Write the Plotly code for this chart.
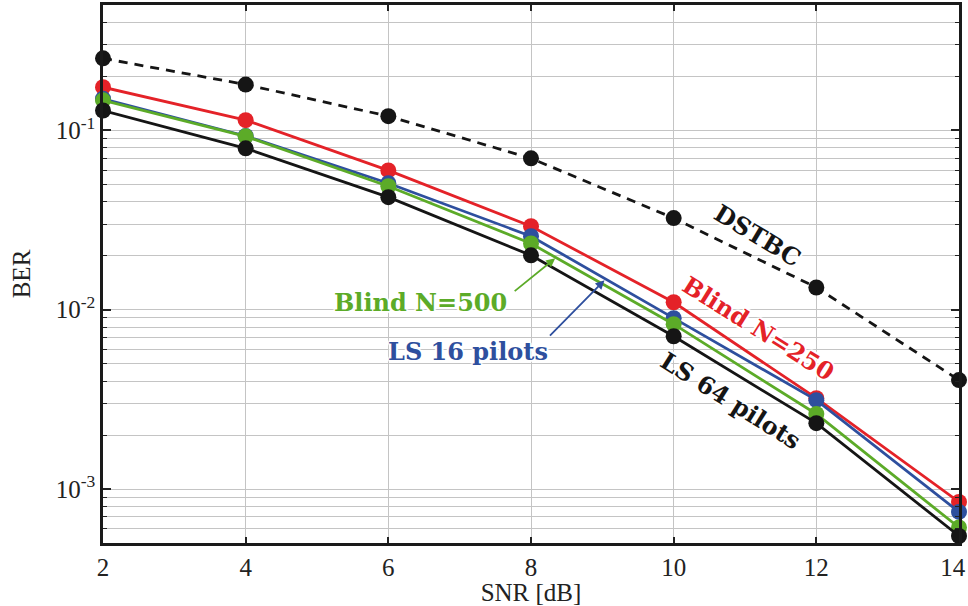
import plotly.graph_objects as go
import numpy as np

snr = [2, 4, 6, 8, 10, 12, 14]
snr_labels = ["2", "4", "6", "8", "10", "12", "14\u00a0\u00a0"]
ber_dstbc = [0.252, 0.180, 0.120, 0.0698, 0.0324, 0.0133, 0.00405]
ber_blind250 = [0.174, 0.114, 0.0598, 0.0292, 0.0110, 0.00321, 0.000847]
ber_ls16 = [0.150, 0.093, 0.0507, 0.0257, 0.00897, 0.00313, 0.000745]
ber_blind500 = [0.147, 0.0926, 0.0488, 0.0234, 0.00830, 0.00262, 0.000610]
ber_ls64 = [0.129, 0.0794, 0.0424, 0.0201, 0.00711, 0.00233, 0.000547]

C_RED = "#e42228"
C_BLUE = "#2e4f9e"
C_GREEN = "#5cab28"
C_BLACK = "#151515"

fig = go.Figure()

def add(y, color, dash="solid", name=""):
    fig.add_trace(go.Scatter(
        x=snr, y=y, mode="lines+markers", name=name,
        line=dict(color=color, width=2.8, dash=dash),
        marker=dict(color=color, size=16, line=dict(width=0)),
        showlegend=False, cliponaxis=False))

add(ber_dstbc, C_BLACK, dash="9px,7px", name="DSTBC")
add(ber_blind250, C_RED, name="Blind N=250")
add(ber_ls16, C_BLUE, name="LS 16 pilots")
add(ber_blind500, C_GREEN, name="Blind N=500")
add(ber_ls64, C_BLACK, name="LS 64 pilots")

halo = "2px 0px 1px white, -2px 0px 1px white, 0px 2px 1px white, 0px -2px 1px white, 1px 1px 1px white, -1px -1px 1px white, 1px -1px 1px white, -1px 1px 1px white"
afont = dict(family="DejaVu Serif", size=24, weight="bold", shadow=halo)

labels = [
    ("DSTBC", C_BLACK, 11.18, -1.585, 31),
    ("Blind N=250", C_RED, 11.19, -2.103, 32),
    ("LS 64 pilots", C_BLACK, 10.80, -2.504, 32),
    ("Blind N=500", C_GREEN, 6.45, -1.958, 0),
    ("LS 16 pilots", C_BLUE, 7.12, -2.231, 0),
]
for txt, col, x, y, ang in labels:
    fig.add_annotation(x=x, y=y, xref="x", yref="y", text=txt, showarrow=False,
                       textangle=ang, font=dict(afont, color=col))

arrows = [
    (C_GREEN, 8.34, -1.713, 7.75, -1.903),
    (C_BLUE, 9.03, -1.836, 8.245, -2.153),
]
for col, hx, hy, tx, ty in arrows:
    fig.add_annotation(x=hx, y=hy, ax=tx, ay=ty, xref="x", yref="y", axref="x", ayref="y",
                       text="", showarrow=True, arrowhead=2, arrowsize=1, arrowwidth=1.8,
                       arrowcolor=col, standoff=0, startstandoff=0)

minor_vals = []
for e in [-4, -3, -2, -1]:
    for m in range(2, 10):
        minor_vals.append(m * 10.0 ** e)

tfont = dict(family="Liberation Serif", size=25, color="#222222")

fig.update_layout(
    width=968, height=606,
    margin=dict(l=103, r=9, t=5, b=63, autoexpand=False),
    paper_bgcolor="white", plot_bgcolor="white",
    font=tfont,
    xaxis=dict(range=[2, 14], tickvals=snr, ticktext=snr_labels,
               ticklabeloverflow="allow", automargin=False,
               ticks="inside", ticklen=6, tickwidth=1.5, tickcolor="#222",
               showline=True, linewidth=2.5, linecolor="#1a1a1a", mirror="allticks",
               showgrid=True, gridcolor="#c4c4c4", gridwidth=1.3, zeroline=False,
               title=dict(text="SNR [dB]", standoff=0, font=tfont), tickfont=tfont),
    yaxis=dict(type="log", range=[np.log10(5e-4), np.log10(0.5)],
               tickvals=[1e-3, 1e-2, 1e-1],
               ticktext=["10<sup>-3</sup>", "10<sup>-2</sup>", "10<sup>-1</sup>"],
               ticklabeloverflow="allow", automargin=False,
               ticks="inside", ticklen=8, tickwidth=1.5, tickcolor="#222",
               showline=True, linewidth=2.5, linecolor="#1a1a1a", mirror="allticks",
               showgrid=True, gridcolor="#c4c4c4", gridwidth=1.3, zeroline=False,
               minor=dict(tickmode="array", tickvals=minor_vals, ticks="inside", ticklen=4,
                          tickwidth=1.2, tickcolor="#222", showgrid=True,
                          gridcolor="#c4c4c4", gridwidth=1.3),
               title=dict(text="BER", standoff=18, font=tfont), tickfont=tfont),
)

fig.write_html("out.html")
